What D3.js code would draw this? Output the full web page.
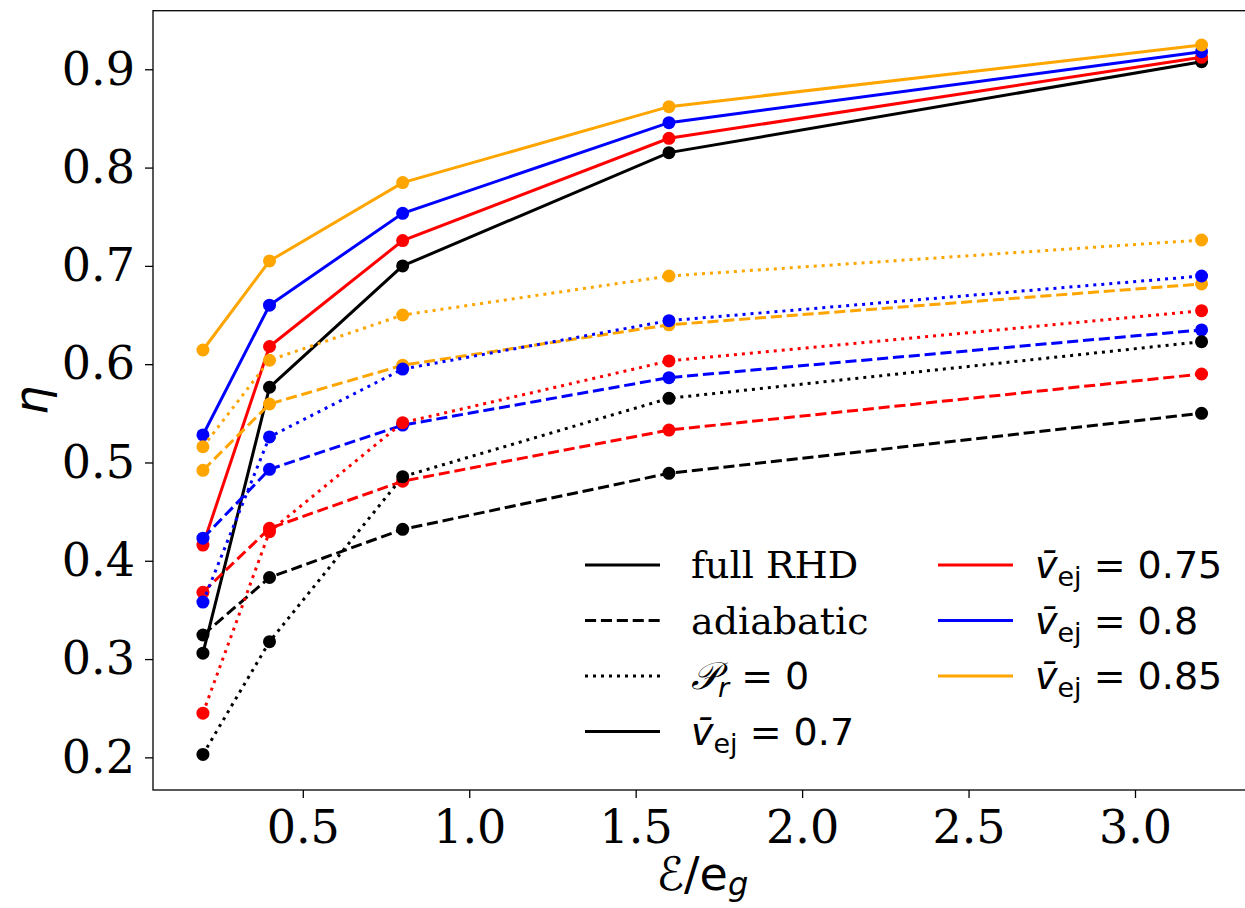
<!DOCTYPE html>
<html>
<head>
<meta charset="utf-8">
<script src="https://cdn.jsdelivr.net/npm/d3@7"></script>
<style>
  body { margin: 0; background: #fff; }
  svg { display: block; }
</style>
</head>
<body>
<script>
// energy ratio E/e_g
var xVals = [0.2, 0.4, 0.8, 1.6, 3.2];

// ejecta velocities and their colours
var velocities = [0.7, 0.75, 0.8, 0.85];
var colors = ["#000000", "#ff0000", "#0000ff", "#ffa500"];

// eta, full RHD (solid)
var fullRHD = [
  [0.306, 0.5765, 0.700, 0.8152, 0.9077],
  [0.416, 0.618, 0.7257, 0.8298, 0.9122],
  [0.528, 0.660, 0.7535, 0.8457, 0.9179],
  [0.6144, 0.705, 0.7847, 0.862, 0.9247]
];

// eta, adiabatic (dashed)
var adiabatic = [
  [0.3245, 0.383, 0.432, 0.489, 0.550],
  [0.368, 0.433, 0.481, 0.533, 0.590],
  [0.423, 0.493, 0.538, 0.5863, 0.6348],
  [0.492, 0.5595, 0.599, 0.640, 0.6816]
];

// eta, P_r = 0 (dotted)
var noRadPressure = [
  [0.203, 0.3177, 0.4856, 0.5653, 0.6229],
  [0.245, 0.4296, 0.5405, 0.6033, 0.6544],
  [0.358, 0.526, 0.595, 0.6443, 0.6897],
  [0.516, 0.604, 0.650, 0.6897, 0.7263]
];

var xTicks = [0.5, 1.0, 1.5, 2.0, 2.5, 3.0];
var yTicks = [0.2, 0.3, 0.4, 0.5, 0.6, 0.7, 0.8, 0.9];

var W = 1245, H = 908;
var pLeft = 153, pTop = 10.7, pRight = 1251.5, pBottom = 790;

var svg = d3.select("body").append("svg")
    .attr("width", W)
    .attr("height", H);

var x = d3.scaleLinear().domain([0.05, 3.35]).range([pLeft, pRight]);
var y = d3.scaleLinear().domain([0.1668, 0.9596]).range([pBottom, pTop]);

var serif = "'DejaVu Serif', serif";
var sans = "'DejaVu Sans', sans-serif";

// axes
var xAxis = svg.append("g")
    .attr("transform", "translate(0," + pBottom + ")")
    .call(d3.axisBottom(x).tickValues(xTicks).tickFormat(d3.format(".1f")).tickSizeOuter(0).tickSize(8).tickPadding(12));
var yAxis = svg.append("g")
    .attr("transform", "translate(" + pLeft + ",0)")
    .call(d3.axisLeft(y).tickValues(yTicks).tickFormat(d3.format(".1f")).tickSizeOuter(0).tickSize(8).tickPadding(10));

[xAxis, yAxis].forEach(function(g) {
  g.select(".domain").remove();
  g.selectAll(".tick line").attr("stroke", "#000").attr("stroke-width", 1.3);
  g.selectAll(".tick text")
      .attr("fill", "#000")
      .style("font-family", serif)
      .style("font-size", "46px");
});

// lines and markers
var line = d3.line()
    .x(function(d, i) { return x(xVals[i]); })
    .y(function(d) { return y(d); });

var groups = [
  { data: fullRHD, dash: null },
  { data: adiabatic, dash: "11.1,4.8" },
  { data: noRadPressure, dash: "3,5" }
];

var plot = svg.append("g");
groups.forEach(function(grp) {
  grp.data.forEach(function(series, k) {
    plot.append("path")
        .datum(series)
        .attr("d", line)
        .attr("fill", "none")
        .attr("stroke", colors[k])
        .attr("stroke-width", 3)
        .attr("stroke-dasharray", grp.dash);
    plot.selectAll(null)
        .data(series)
      .enter().append("circle")
        .attr("cx", function(d, i) { return x(xVals[i]); })
        .attr("cy", function(d) { return y(d); })
        .attr("r", 6.5)
        .attr("fill", colors[k]);
  });
});

// frame
svg.append("rect")
    .attr("x", pLeft)
    .attr("y", pTop)
    .attr("width", pRight - pLeft)
    .attr("height", pBottom - pTop)
    .attr("fill", "none")
    .attr("stroke", "#000")
    .attr("stroke-width", 1.3);

// axis labels
var xl = svg.append("text")
    .attr("x", (pLeft + pRight) / 2)
    .attr("y", 890)
    .attr("text-anchor", "middle")
    .style("font-family", sans)
    .style("font-size", "46px");
xl.append("tspan").text("\u2130/e");
xl.append("tspan").attr("dy", 5).style("font-size", "32px").style("font-style", "italic").text("g");

svg.append("text")
    .attr("transform", "translate(47," + ((pTop + pBottom) / 2) + ") rotate(-90)")
    .attr("text-anchor", "middle")
    .style("font-family", sans)
    .style("font-size", "46px")
    .style("font-style", "italic")
    .text("\u03b7");

// legend
var legendItems = [
  { col: 0, row: 0, color: "#000", dash: null, label: "full RHD", kind: "serif" },
  { col: 0, row: 1, color: "#000", dash: "11.1,4.8", label: "adiabatic", kind: "serif" },
  { col: 0, row: 2, color: "#000", dash: "3,5", label: "P", kind: "pr" },
  { col: 0, row: 3, color: colors[0], dash: null, label: velocities[0], kind: "v" },
  { col: 1, row: 0, color: colors[1], dash: null, label: velocities[1], kind: "v" },
  { col: 1, row: 1, color: colors[2], dash: null, label: velocities[2], kind: "v" },
  { col: 1, row: 2, color: colors[3], dash: null, label: velocities[3], kind: "v" }
];
var colX = [585, 938], rowY0 = 565, rowDy = 55.5, handleLen = 75;

var leg = svg.append("g");
legendItems.forEach(function(it) {
  var lx = colX[it.col], ly = rowY0 + it.row * rowDy;
  leg.append("line")
      .attr("x1", lx).attr("x2", lx + handleLen)
      .attr("y1", ly).attr("y2", ly)
      .attr("stroke", it.color)
      .attr("stroke-width", 3)
      .attr("stroke-dasharray", it.dash);
  var t = leg.append("text")
      .attr("x", lx + (it.col === 0 ? 106 : 97))
      .attr("y", ly + 13)
      .style("font-size", "38px")
      .attr("fill", "#000");
  if (it.kind === "serif") {
    t.style("font-family", serif).text(it.label);
  } else if (it.kind === "pr") {
    t.style("font-family", sans);
    t.append("tspan").style("font-family", serif).style("font-style", "italic").text("\ud835\udcab");
    t.append("tspan").attr("dy", 8).style("font-size", "27px").style("font-style", "italic").text("r");
    t.append("tspan").attr("dy", -8).text(" = 0");
  } else {
    t.style("font-family", sans);
    t.append("tspan").style("font-style", "italic").text("v\u0304");
    t.append("tspan").attr("dy", 8).style("font-size", "27px").text("ej");
    t.append("tspan").attr("dy", -8).text(" = " + it.label);
  }
});
</script>
</body>
</html>
